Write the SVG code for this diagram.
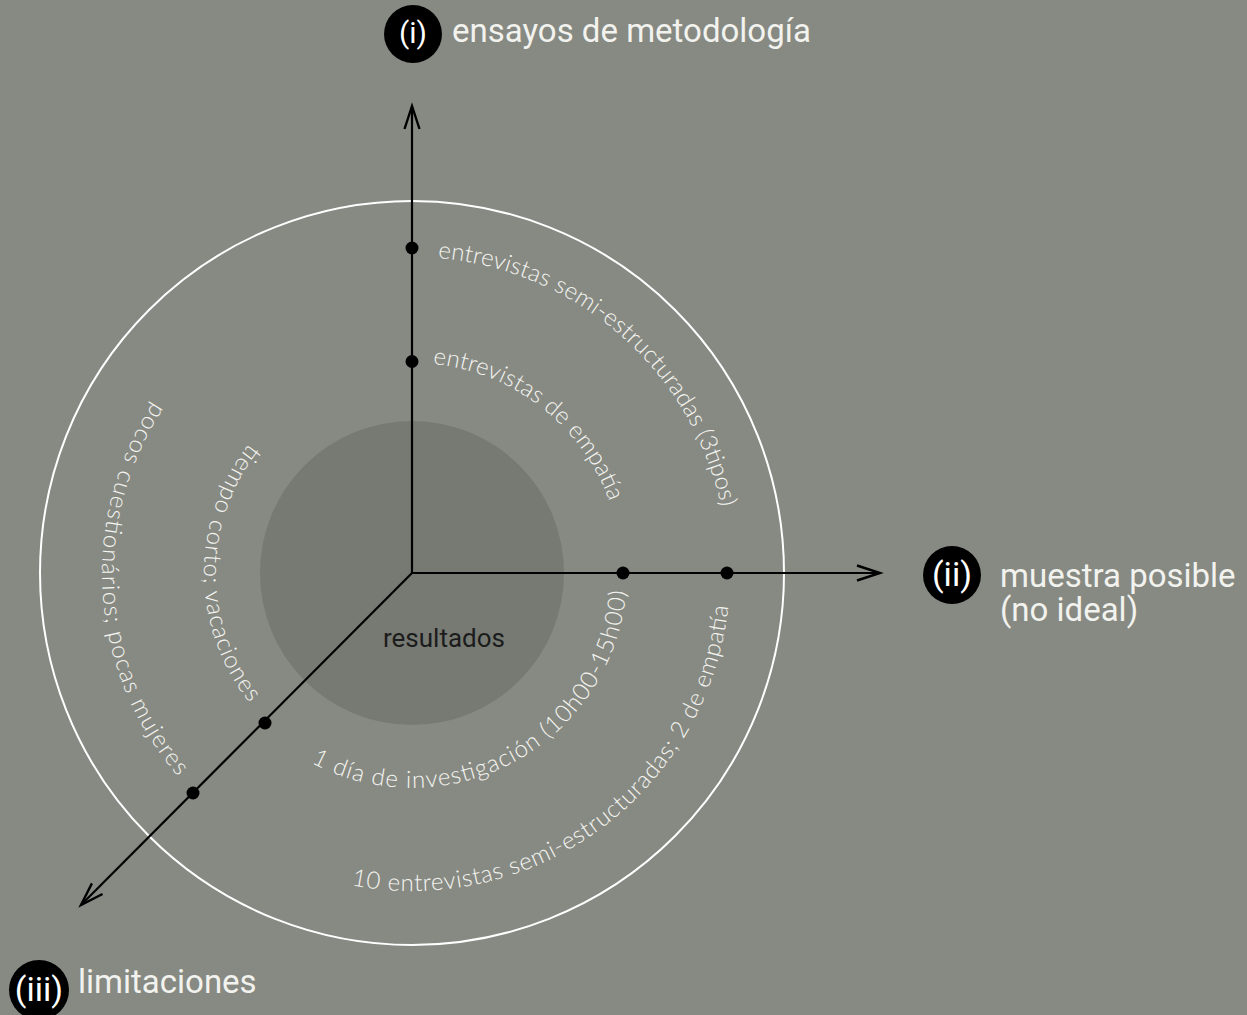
<svg xmlns="http://www.w3.org/2000/svg" width="1247" height="1015" viewBox="0 0 1247 1015">
<style>
.arc{font-family:"Lato","Open Sans","DejaVu Sans",sans-serif;font-weight:300;font-size:24px;fill:#f4f4f0;}
.lbl{font-family:"Roboto","Liberation Sans",sans-serif;font-size:33px;fill:#f2f2ee;}
.num{font-family:"Roboto","Liberation Sans",sans-serif;fill:#ffffff;text-anchor:middle;}
.axis{stroke:#000;stroke-width:2.2;fill:none;}
.dot{fill:#000;}
</style>
<defs>
<marker id="arr" markerWidth="30" markerHeight="20" refX="24" refY="10" orient="auto" markerUnits="userSpaceOnUse">
<path d="M1,2.5 L24,10 L1,17.5" fill="none" stroke="#000" stroke-width="2.4"/>
</marker>
<path id="p1" d="M437.9,258.1 A316,316 0 0 1 726.8,545.5"/>
<path id="p2" d="M432.9,364 A210,210 0 0 1 618.8,536.5"/>
<path id="p3" d="M311.1,762.8 A215,215 0 0 0 626.2,554.3"/>
<path id="p4" d="M351.3,885.2 A318,318 0 0 0 729.6,556.4"/>
<path id="p5" d="M249.2,443.5 A208,208 0 0 0 278.3,732.3"/>
<path id="p6" d="M153.5,401.9 A310,310 0 0 0 212.7,810.5"/>
</defs>
<rect width="1247" height="1015" fill="#878a83"/>
<g id="outer-circle"><circle cx="412" cy="573" r="372" fill="none" stroke="#fff" stroke-width="2"/></g>
<g id="resultados"><circle cx="412" cy="573" r="152" fill="#767a73"/>
<text x="444" y="647" font-family="Roboto,'Liberation Sans',sans-serif" font-size="26" fill="#1c1c1c" text-anchor="middle">resultados</text></g>
<g id="connectors">
<line class="axis" x1="412" y1="573" x2="412" y2="106" marker-end="url(#arr)"/>
<line class="axis" x1="412" y1="573" x2="880" y2="573" marker-end="url(#arr)"/>
<line class="axis" x1="412" y1="573" x2="81" y2="905" marker-end="url(#arr)"/>
</g>
<g id="dots">
<circle class="dot" cx="412" cy="248" r="6.5"/>
<circle class="dot" cx="412" cy="361.5" r="6.5"/>
<circle class="dot" cx="623" cy="573" r="6.5"/>
<circle class="dot" cx="727" cy="573" r="6.5"/>
<circle class="dot" cx="265" cy="723" r="6.5"/>
<circle class="dot" cx="193" cy="793" r="6.5"/>
</g>
<g id="arc-texts">
<text class="arc"><textPath href="#p1" textLength="404" lengthAdjust="spacing">entrevistas semi-estructuradas (3tipos)</textPath></text>
<text class="arc"><textPath href="#p2" textLength="236" lengthAdjust="spacing">entrevistas de empatía</textPath></text>
<text class="arc"><textPath href="#p3" textLength="424" lengthAdjust="spacing">1 día de investigación (10h00-15h00)</textPath></text>
<text class="arc"><textPath href="#p4" textLength="527" lengthAdjust="spacing">10 entrevistas semi-estructuradas; 2 de empatía</textPath></text>
<text class="arc"><textPath href="#p5" textLength="280" lengthAdjust="spacing">tiempo corto; vacaciones</textPath></text>
<text class="arc"><textPath href="#p6" textLength="403" lengthAdjust="spacing">pocos cuestionários; pocas mujeres</textPath></text>
</g>
<g id="label-i">
<circle cx="413" cy="34" r="29" fill="#000"/>
<text class="num" x="413" y="43" font-size="30">(i)</text>
<text class="lbl" x="452" y="42">ensayos de metodología</text>
</g>
<g id="label-ii">
<circle cx="952" cy="575" r="29" fill="#000"/>
<text class="num" x="952" y="586" font-size="34">(ii)</text>
<text class="lbl" x="1000" y="587">muestra posible</text>
<text class="lbl" x="1000" y="621">(no ideal)</text>
</g>
<g id="label-iii">
<circle cx="39" cy="990" r="30" fill="#000"/>
<text class="num" x="39" y="1001" font-size="34">(iii)</text>
<text class="lbl" x="78" y="993">limitaciones</text>
</g>
</svg>
